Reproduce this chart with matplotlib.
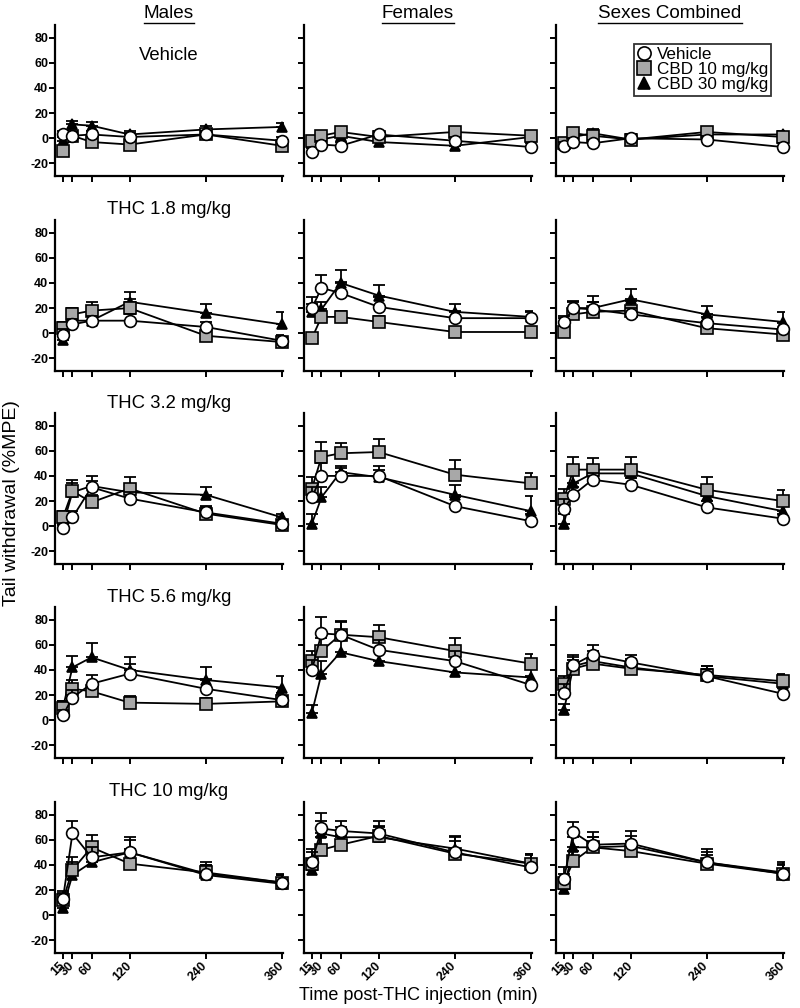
import numpy as np
import matplotlib
matplotlib.use("Agg")
import matplotlib.pyplot as plt
from matplotlib.lines import Line2D

plt.rcParams['font.family'] = ['Liberation Sans', 'DejaVu Sans']

# time points (min) and panel labels
times = [15, 30, 60, 120, 240, 360]
row_titles = ['Vehicle', 'THC 1.8 mg/kg', 'THC 3.2 mg/kg', 'THC 5.6 mg/kg', 'THC 10 mg/kg']
col_titles = ['Males', 'Females', 'Sexes Combined']
series_names = ['Vehicle', 'CBD 10 mg/kg', 'CBD 30 mg/kg']

# %MPE means (rows = THC dose, cols = time) and upper SEM
males_veh = [[3, 2, 3, 1, 3, -2],
             [-1, 7, 10, 10, 5, -6],
             [-1, 7, 31, 22, 11, 2],
             [4, 18, 29, 37, 25, 16],
             [13, 65, 46, 50, 33, 26]]
males_veh_err = [[3, 3, 3, 3, 3, 3],
                 [4, 4, 4, 5, 4, 5],
                 [3, 5, 5, 5, 4, 3],
                 [4, 6, 7, 8, 8, 6],
                 [6, 10, 8, 10, 7, 6]]
males_cbd10 = [[-10, 2, -3, -5, 3, -6],
               [4, 15, 18, 20, -2, -7],
               [7, 28, 19, 30, 10, 1],
               [10, 25, 23, 14, 13, 15],
               [12, 36, 54, 41, 34, 26]]
males_cbd10_err = [[3, 3, 3, 3, 3, 3],
                   [5, 5, 7, 7, 4, 4],
                   [5, 9, 6, 9, 6, 3],
                   [5, 7, 6, 5, 5, 5],
                   [6, 10, 10, 12, 8, 7]]
males_cbd30 = [[-2, 11, 10, 3, 7, 9],
               [-5, 10, 10, 25, 16, 7],
               [1, 27, 32, 27, 25, 7],
               [10, 42, 50, 40, 32, 26],
               [6, 32, 42, 50, 32, 25]]
males_cbd30_err = [[3, 3, 3, 3, 3, 3],
                   [4, 4, 4, 8, 7, 10],
                   [4, 7, 8, 6, 6, 3],
                   [5, 9, 11, 10, 10, 9],
                   [5, 10, 7, 12, 8, 7]]

females_veh = [[-11, -5, -6, 3, -2, -7],
               [20, 36, 32, 21, 12, 12],
               [23, 40, 40, 40, 16, 4],
               [40, 69, 68, 56, 47, 28],
               [42, 69, 67, 65, 50, 38]]
females_veh_err = [[3, 3, 3, 3, 3, 3],
                   [9, 10, 9, 8, 6, 5],
                   [8, 10, 6, 8, 7, 6],
                   [8, 13, 11, 8, 8, 7],
                   [8, 12, 8, 10, 12, 10]]
females_cbd10 = [[-2, 2, 5, 1, 5, 2],
                 [-4, 13, 13, 9, 1, 1],
                 [30, 55, 58, 59, 41, 34],
                 [47, 55, 68, 66, 55, 45],
                 [41, 52, 56, 63, 49, 41]]
females_cbd10_err = [[3, 3, 3, 3, 3, 3],
                     [4, 5, 5, 5, 4, 4],
                     [9, 12, 8, 10, 12, 8],
                     [8, 10, 10, 10, 10, 8],
                     [12, 10, 8, 8, 10, 8]]
females_cbd30 = [[-7, -1, 2, -3, -6, 1],
                 [17, 19, 40, 30, 17, 13],
                 [2, 23, 43, 39, 25, 12],
                 [6, 37, 54, 47, 38, 34],
                 [36, 65, 62, 62, 53, 41]]
females_cbd30_err = [[3, 3, 3, 3, 3, 3],
                     [6, 6, 10, 8, 6, 5],
                     [8, 8, 5, 6, 8, 12],
                     [6, 10, 10, 8, 8, 8],
                     [8, 10, 8, 8, 10, 8]]

comb_veh = [[-6, -3, -4, 0, -1, -7],
            [9, 20, 19, 15, 8, 3],
            [14, 25, 37, 33, 15, 6],
            [22, 44, 52, 46, 35, 21],
            [29, 66, 56, 57, 42, 33]]
comb_veh_err = [[3, 3, 3, 3, 3, 3],
                [5, 6, 6, 5, 5, 5],
                [8, 6, 5, 5, 5, 4],
                [7, 8, 8, 6, 6, 5],
                [9, 8, 10, 10, 11, 9]]
comb_cbd10 = [[-4, 4, 2, -1, 5, 1],
              [1, 15, 17, 18, 4, -1],
              [22, 45, 45, 45, 29, 20],
              [29, 41, 45, 41, 36, 31],
              [26, 43, 54, 51, 41, 33]]
comb_cbd10_err = [[3, 3, 3, 3, 3, 3],
                  [4, 5, 8, 8, 6, 5],
                  [8, 10, 9, 10, 10, 9],
                  [6, 7, 7, 7, 7, 6],
                  [7, 8, 8, 8, 7, 7]]
comb_cbd30 = [[-5, 1, 4, -1, 3, 3],
              [8, 20, 20, 27, 15, 9],
              [2, 34, 42, 42, 24, 12],
              [8, 43, 47, 42, 35, 29],
              [21, 54, 54, 55, 42, 34]]
comb_cbd30_err = [[3, 3, 3, 3, 3, 3],
                  [4, 5, 10, 8, 7, 8],
                  [8, 8, 7, 7, 8, 7],
                  [5, 7, 8, 7, 8, 7],
                  [6, 8, 8, 8, 8, 7]]

columns = [
    [(males_veh, males_veh_err), (males_cbd10, males_cbd10_err), (males_cbd30, males_cbd30_err)],
    [(females_veh, females_veh_err), (females_cbd10, females_cbd10_err), (females_cbd30, females_cbd30_err)],
    [(comb_veh, comb_veh_err), (comb_cbd10, comb_cbd10_err), (comb_cbd30, comb_cbd30_err)],
]

# marker styles per series: (marker, face, size, zorder)
styles = [('o', 'white', 8.5, 5), ('s', '#a8a8a8', 8.5, 4), ('^', 'black', 7.5, 3)]

W, H = 800, 1008
fig = plt.figure(figsize=(W / 100, H / 100), dpi=100)

col_left = [55, 304, 556]
row_top = [25, 220, 413, 607, 802]
ax_w, ax_h = 228, 151

legend_handles = []
for r in range(5):
    for c in range(3):
        ax = fig.add_axes([col_left[c] / W, 1 - (row_top[r] + ax_h) / H, ax_w / W, ax_h / H])
        for s, (means, errs) in enumerate(columns[c]):
            mk, fc, ms, z = styles[s]
            m = np.array(means[r], dtype=float)
            e = np.array(errs[r], dtype=float)
            ax.errorbar(times, m, yerr=[np.zeros_like(e), e], fmt='none', ecolor='black',
                        elinewidth=1.3, capsize=4.5, capthick=1.3, zorder=z - 0.5)
            ax.plot(times, m, color='black', lw=1.3, marker=mk, ms=ms, mfc=fc,
                    mec='black', mew=1.2, zorder=z, clip_on=False)
            if r == 0 and c == 2:
                legend_handles.append(Line2D([], [], ls='none', marker=mk, ms=ms + 1, mfc=fc,
                                             mec='black', mew=1.2))
        ax.set_xlim(2.5, 361.5)
        ax.set_ylim(-30, 90)
        ax.set_yticks([-20, 0, 20, 40, 60, 80])
        ax.set_xticks(times)
        for sp in ['top', 'right']:
            ax.spines[sp].set_visible(False)
        for sp in ['left', 'bottom']:
            ax.spines[sp].set_linewidth(1.6)
        ax.tick_params(width=1.4, length=4, direction='out', pad=1)
        if c == 0:
            ax.set_yticklabels([str(v) for v in [-20, 0, 20, 40, 60, 80]],
                               fontsize=9, fontweight='bold')
        else:
            ax.set_yticklabels([])
        if r == 4:
            ax.set_xticklabels([str(t) for t in times], rotation=45, fontsize=9,
                               fontweight='bold', ha='right', va='center',
                               rotation_mode='anchor')
            ax.tick_params(axis='x', pad=4)
        else:
            ax.set_xticklabels([])
        if r == 0 and c == 2:
            leg = ax.legend(legend_handles, series_names, loc='upper right',
                            bbox_to_anchor=(0.945, 0.875), fontsize=12.3, frameon=True,
                            fancybox=False, handlelength=0.8, handletextpad=0.35,
                            labelspacing=0.0, borderpad=0.2, borderaxespad=0)
            leg.get_frame().set_edgecolor('black')
            leg.get_frame().set_linewidth(1.3)

# row labels (dose)
for r, t in enumerate(row_titles):
    y = 55 if r == 0 else row_top[r] - 10
    fig.text((col_left[0] + ax_w / 2) / W, 1 - y / H, t, ha='center', va='center', fontsize=13.3)

# column headers, underlined
col_texts = []
for c, t in enumerate(col_titles):
    col_texts.append(fig.text((col_left[c] + ax_w / 2) / W, 1 - 13 / H, t,
                              ha='center', va='center', fontsize=13.6))
fig.canvas.draw()
for txt in col_texts:
    bb = txt.get_window_extent()
    yl = bb.y0 - 1
    fig.add_artist(Line2D([bb.x0 / W, bb.x1 / W], [yl / H, yl / H], transform=fig.transFigure,
                          color='black', lw=1.0))

fig.text(12 / W, 1 - 503 / H, 'Tail withdrawal (%MPE)', rotation=90, ha='center', va='center',
         fontsize=14)
fig.text(418 / W, 1 - 995 / H, 'Time post-THC injection (min)', ha='center', va='center',
         fontsize=13)

fig.savefig('out.png', dpi=100)
